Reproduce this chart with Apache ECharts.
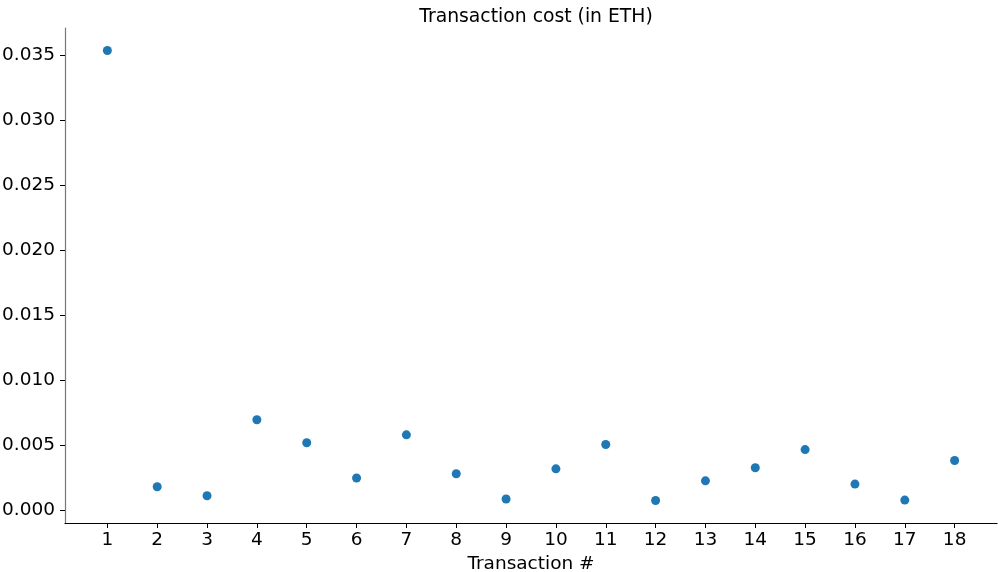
<!DOCTYPE html>
<html>
<head>
<meta charset="utf-8">
<script src="https://cdn.jsdelivr.net/npm/echarts@6/dist/echarts.min.js"></script>
<style>html,body{margin:0;padding:0;background:#fff}#c{width:998px;height:572px}</style>
</head>
<body>
<div id="c"></div>
<script>
const transactions = [1,2,3,4,5,6,7,8,9,10,11,12,13,14,15,16,17,18];
const costs = [0.03533,0.00182,0.00113,0.00697,0.0052,0.0025,0.00581,0.00282,0.00088,0.0032,0.00507,0.00077,0.00228,0.00328,0.00468,0.00203,0.0008,0.00384];
const yTicks = [0,0.005,0.01,0.015,0.02,0.025,0.03,0.035];

const font = 'DejaVu Sans';
const fs = 18.5;
const chart = echarts.init(document.getElementById('c'), null, {renderer:'canvas'});
chart.setOption({
  animation:false,
  backgroundColor:'#fff',
  title:{text:'Transaction cost (in ETH)', left:531, top:3, textAlign:'center',
    textStyle:{fontFamily:font, fontSize:18.8, fontWeight:'normal', color:'#000'}},
  grid:{left:65, right:1, top:28, bottom:49, containLabel:false, outerBoundsMode:'none'},
  xAxis:{type:'value', min:0.15, max:18.85,
    name:'Transaction #', nameLocation:'middle', nameGap:31,
    nameTextStyle:{fontFamily:font, fontSize:fs, color:'#000'},
    axisLine:{show:true, onZero:false, lineStyle:{color:'#000', width:1.2}},
    axisTick:{show:true, customValues:transactions, length:5, inside:false, lineStyle:{color:'#000'}},
    axisLabel:{customValues:transactions, fontFamily:font, fontSize:fs, color:'#000', margin:8,
      formatter:v=>String(Math.round(v))},
    splitLine:{show:false}},
  yAxis:{type:'value', min:-0.00096, max:0.03706,
    axisLine:{show:true, onZero:false, lineStyle:{color:'#777', width:1.2}},
    axisTick:{show:true, customValues:yTicks, length:5, lineStyle:{color:'#000'}},
    axisLabel:{customValues:yTicks, fontFamily:font, fontSize:fs, color:'#000', margin:10,
      formatter:v=>v.toFixed(3)},
    splitLine:{show:false}},
  series:[{type:'scatter', symbolSize:9, itemStyle:{color:'#1f77b4', opacity:1},
    data:transactions.map((t,i)=>[t,costs[i]])}]
});
</script>
</body>
</html>
